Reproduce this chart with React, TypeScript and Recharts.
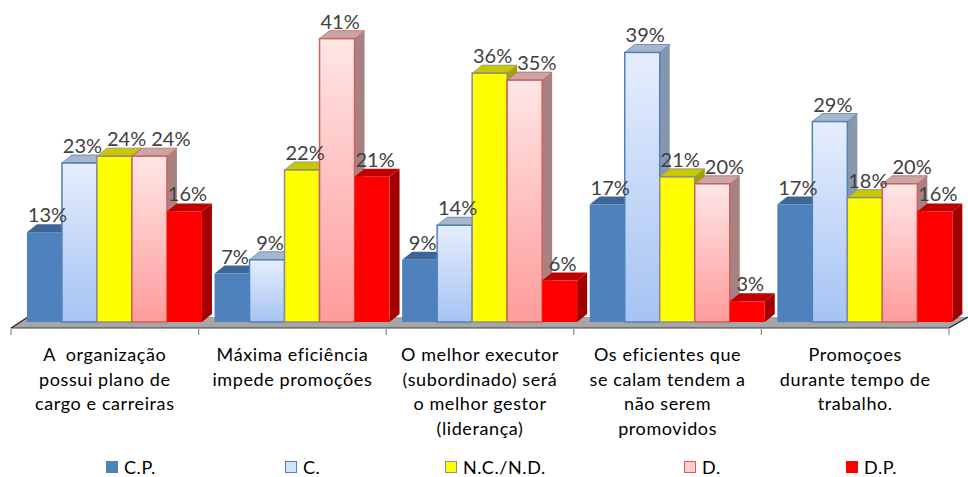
import React from 'react';
import { BarChart, Bar, XAxis, YAxis, Legend, LabelList, Customized } from 'recharts';

const categories = [
  'A  organização\npossui plano de\ncargo e carreiras',
  'Máxima eficiência\nimpede promoções',
  'O melhor executor\n(subordinado) será\no melhor gestor\n(liderança)',
  'Os eficientes que\nse calam tendem a\nnão serem\npromovidos',
  'Promoçoes\ndurante tempo de\ntrabalho.',
];
const seriesNames = ['C.P.', 'C.', 'N.C./N.D.', 'D.', 'D.P.'];
const cpValues = [13, 7, 9, 17, 17];
const cValues = [23, 9, 14, 39, 29];
const ncValues = [24, 22, 36, 21, 18];
const dValues = [24, 41, 35, 20, 20];
const dpValues = [16, 21, 6, 3, 16];

const seriesValues = [cpValues, cValues, ncValues, dValues, dpValues];

const data = categories.map((name, i) => ({
  name,
  cp: cpValues[i],
  c: cValues[i],
  nc: ncValues[i],
  d: dValues[i],
  dp: dpValues[i],
}));

const W = 968;
const H = 477;
const MARGIN = { top: 11, right: 19, left: 11, bottom: 0 };
const PLOT_BOTTOM = 322;
const Y_MAX = 45;
const FONT = 'Lato, "Open Sans", sans-serif';
const LABEL_SIZE = 20;

// 3d look
const SHIFT_X = 9; // bars stand in the middle of the floor depth
const DX = 10;
const DY = -8;

const styles = [
  { key: 'cp', front: '#4f81bd', stroke: 'none', top: '#3c6698', side: '#375e8c', legendX: 106 },
  { key: 'c', front: 'url(#gradC)', stroke: '#4f81bd', top: '#a7b6ca', side: '#8797ad', legendX: 285, swatch: '#d4e3fb' },
  { key: 'nc', front: '#ffff00', stroke: '#8c8c8c', top: '#c8c800', side: '#a3a300', legendX: 445 },
  { key: 'd', front: 'url(#gradD)', stroke: '#d0605c', top: '#caa5a5', side: '#a88282', legendX: 684, swatch: '#ffcccc' },
  { key: 'dp', front: '#ff0000', stroke: 'none', top: '#c00000', side: '#a20000', legendX: 846 },
];

const make3DBar = (s: typeof styles[number]) => (props: any) => {
  const { x, y, width, height } = props;
  if ([x, y, width, height].some(v => typeof v !== 'number' || isNaN(v))) return <g />;
  const fx = x + SHIFT_X;
  const top = `${fx},${y} ${fx + DX},${y + DY} ${fx + width + DX},${y + DY} ${fx + width},${y}`;
  const side = `${fx + width},${y} ${fx + width + DX},${y + DY} ${fx + width + DX},${y + height + DY} ${fx + width},${y + height}`;
  return (
    <g>
      <polygon points={side} fill={s.side} />
      <polygon points={top} fill={s.top} stroke={s.stroke === 'none' ? 'none' : s.stroke} strokeWidth={0.8} />
      <rect x={fx} y={y} width={width} height={height} fill={s.front} stroke={s.stroke} strokeWidth={1.5} />
    </g>
  );
};

// nudge a label right when it would run into the label of the bar to its left
const labelWidth = (v: number) => (String(v).length * 0.58 + 0.8) * LABEL_SIZE;
const labelOffset = (cat: number, ser: number, barW: number): number => {
  const base = 3;
  if (ser === 0) return base;
  const v = seriesValues[ser][cat];
  const pv = seriesValues[ser - 1][cat];
  const prev = labelOffset(cat, ser - 1, barW);
  const pxPerUnit = (PLOT_BOTTOM - MARGIN.top) / Y_MAX;
  if (Math.abs(v - pv) * pxPerUnit > LABEL_SIZE) return base;
  const need = prev - barW + (labelWidth(v) + labelWidth(pv)) / 2 + 5;
  return Math.max(base, need);
};

const makeLabel = (ser: number) => (props: any) => {
  const { x, y, width, value, index } = props;
  const off = labelOffset(index, ser, width);
  return (
    <text
      x={x + SHIFT_X + width / 2 + off}
      y={y - 10}
      textAnchor="middle"
      fontFamily={FONT}
      fontSize={LABEL_SIZE}
      fill="#404040"
    >
      {value}%
    </text>
  );
};

const CategoryTick = (props: any) => {
  const { x, payload } = props;
  const lines = String(payload.value).split('\n');
  return (
    <text textAnchor="middle" fontFamily={FONT} fontSize={18} letterSpacing={0.6} fill="#000">
      {lines.map((ln, i) => (
        <tspan key={i} x={x} y={PLOT_BOTTOM + 39 + i * 24.5} style={{ whiteSpace: 'pre' }}>
          {ln}
        </tspan>
      ))}
    </text>
  );
};

const Floor = () => {
  const left = MARGIN.left;
  const right = W - MARGIN.right;
  const front = PLOT_BOTTOM + 6;
  const back = PLOT_BOTTOM - 5;
  const band = (right - left) / categories.length;
  return (
    <g>
      <polygon
        points={`${left},${front} ${right},${front} ${right + 19},${back} ${left + 17},${back}`}
        fill="#a6a6a6"
      />
      <line x1={left} y1={front} x2={right} y2={front} stroke="#404040" strokeWidth={1.2} />
      <line x1={left} y1={front} x2={left + 17} y2={back} stroke="#202020" strokeWidth={1.2} />
      <line x1={right} y1={front} x2={right + 19} y2={back} stroke="#202020" strokeWidth={1.2} />
      {Array.from({ length: categories.length + 1 }, (_, i) => (
        <line
          key={i}
          x1={left + i * band}
          y1={front + 1}
          x2={left + i * band}
          y2={front + 7}
          stroke="#8c8c8c"
          strokeWidth={1.2}
        />
      ))}
    </g>
  );
};

const LegendContent = () => (
  <div style={{ position: 'relative', height: 30, width: W, fontFamily: FONT, fontSize: 18 }}>
    {styles.map((s, i) => (
      <div
        key={s.key}
        style={{ position: 'absolute', left: s.legendX, top: 11, display: 'flex', alignItems: 'center' }}
      >
        <span
          style={{
            display: 'inline-block',
            width: 12,
            height: 12,
            boxSizing: 'border-box',
            background: s.swatch || s.front,
            border: s.stroke === 'none' ? 'none' : `1.5px solid ${s.stroke}`,
            marginRight: 6,
          }}
        />
        <span style={{ color: '#000', letterSpacing: 0.6, lineHeight: '18px' }}>{seriesNames[i]}</span>
      </div>
    ))}
  </div>
);

export default function App() {
  return (
    <div style={{ width: W, height: H, background: '#fff' }}>
      <style>{'body{margin:0}'}</style>
      <BarChart width={W} height={H} data={data} margin={MARGIN} barCategoryGap="3.7%" barGap={0}>
        <defs>
          <linearGradient id="gradC" x1="0" y1="0" x2="0" y2="1">
            <stop offset="0%" stopColor="#e6eefd" />
            <stop offset="100%" stopColor="#a5c3f3" />
          </linearGradient>
          <linearGradient id="gradD" x1="0" y1="0" x2="0" y2="1">
            <stop offset="0%" stopColor="#ffe6e6" />
            <stop offset="100%" stopColor="#ff9b9b" />
          </linearGradient>
        </defs>
        <Customized component={<Floor />} />
        <XAxis dataKey="name" axisLine={false} tickLine={false} height={125} interval={0} tick={<CategoryTick />} />
        <YAxis hide domain={[0, Y_MAX]} />
        <Legend verticalAlign="bottom" content={<LegendContent />} wrapperStyle={{ left: 0 }} />
        {styles.map((s, i) => (
          <Bar key={s.key} dataKey={s.key} name={seriesNames[i]} shape={make3DBar(s)} isAnimationActive={false}>
            <LabelList dataKey={s.key} content={makeLabel(i)} />
          </Bar>
        ))}
      </BarChart>
    </div>
  );
}
